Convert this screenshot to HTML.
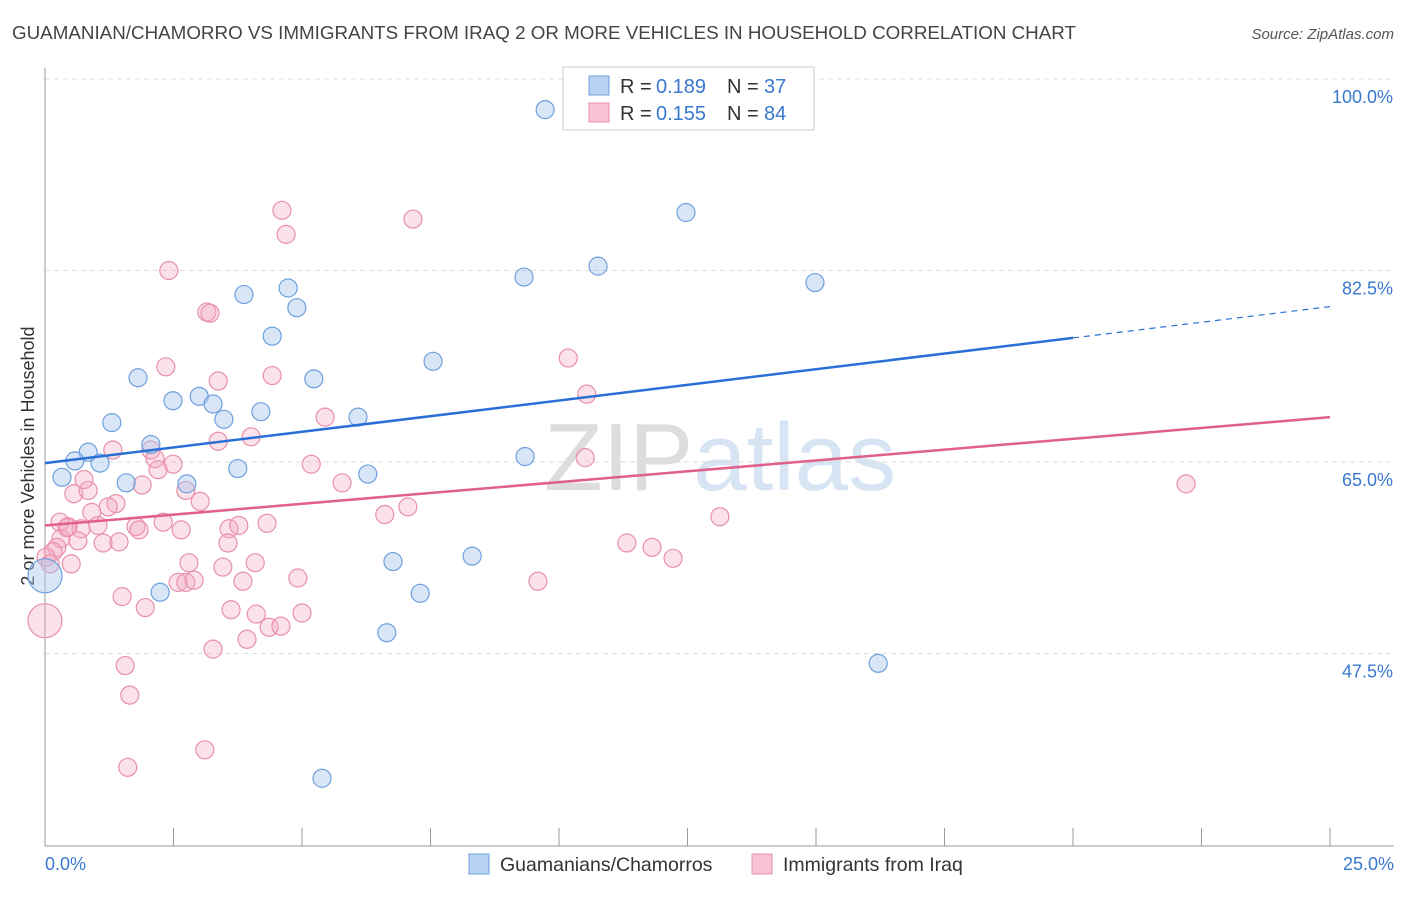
<!DOCTYPE html>
<html><head><meta charset="utf-8"><style>
body{margin:0;background:#fff;font-family:"Liberation Sans",sans-serif}
svg text{font-family:"Liberation Sans",sans-serif}
</style></head><body>
<svg id="chart" width="1406" height="892" viewBox="0 0 1406 892">
<text x="12" y="39" font-size="18.8" fill="#444" textLength="1064">GUAMANIAN/CHAMORRO VS IMMIGRANTS FROM IRAQ 2 OR MORE VEHICLES IN HOUSEHOLD CORRELATION CHART</text>
<text x="1394" y="39" font-size="15" fill="#555" font-style="italic" text-anchor="end">Source: ZipAtlas.com</text>
<text x="720" y="490" font-size="96" fill="#e4e4e4" text-anchor="middle" font-family="Liberation Serif"><tspan fill="#ddd">ZIP</tspan><tspan fill="#d6e4f4" font-family="Liberation Sans">atlas</tspan></text>
<g id="grid"></g>
<line x1="45" y1="68" x2="45" y2="846" stroke="#999"/>
<line x1="45" y1="846" x2="1394" y2="846" stroke="#999"/>
<g id="xticks"></g>
<text transform="translate(34,456) rotate(-90)" font-size="18" fill="#333" text-anchor="middle">2 or more Vehicles in Household</text>
<text x="45" y="870" font-size="18" fill="#3a78d0">0.0%</text>
<text x="1394" y="870" font-size="18" fill="#3a78d0" text-anchor="end">25.0%</text>
<g id="pts"></g>
<g id="lines"></g>
<g>
<rect x="563" y="67" width="251" height="63" fill="#fff" stroke="#ccc"/>
<rect x="589" y="76" width="20" height="19" fill="#b8d2f4" stroke="#6fa0dc"/>
<rect x="589" y="103" width="20" height="19" fill="#f8c4d4" stroke="#e890ab"/>
<text x="620" y="93" font-size="20" fill="#333">R =</text><text x="656" y="93" font-size="20" fill="#3a78d0">0.189</text>
<text x="727" y="93" font-size="20" fill="#333">N =</text><text x="764" y="93" font-size="20" fill="#3a78d0">37</text>
<text x="620" y="120" font-size="20" fill="#333">R =</text><text x="656" y="120" font-size="20" fill="#3a78d0">0.155</text>
<text x="727" y="120" font-size="20" fill="#333">N =</text><text x="764" y="120" font-size="20" fill="#3a78d0">84</text>
</g>
<g>
<rect x="469" y="854" width="20" height="20" fill="#b8d2f4" stroke="#6fa0dc"/>
<text x="500" y="871" font-size="19.5" fill="#333">Guamanians/Chamorros</text>
<rect x="752" y="854" width="20" height="20" fill="#f8c4d4" stroke="#e890ab"/>
<text x="783" y="871" font-size="19.5" fill="#333">Immigrants from Iraq</text>
</g>
</svg>
<script>
const yTicks=[100,82.5,65,47.5];
const blueX=[9.73,12.47,10.76,9.32,14.98,3.87,4.73,4.90,4.42,7.55,1.81,5.23,2.49,3.00,3.27,4.20,6.09,3.48,1.30,2.06,0.84,0.58,1.07,3.75,6.28,0.33,1.58,2.76,9.34,8.31,6.77,2.24,7.30,6.65,16.21,5.39,0.0];
const blueY=[97.2,87.8,82.9,81.9,81.4,80.3,80.9,79.1,76.5,74.2,72.7,72.6,70.6,71.0,70.3,69.6,69.1,68.9,68.6,66.6,65.9,65.1,64.9,64.4,63.9,63.6,63.1,63.0,65.5,56.4,55.9,53.1,53.0,49.4,46.6,36.1,54.6];
const blueBig=[0,0,0,0,0,0,0,0,0,0,0,0,0,0,0,0,0,0,0,0,0,0,0,0,0,0,0,0,0,0,0,0,0,0,0,0,1];
const pinkX=[4.61,4.69,7.16,2.41,3.15,3.21,10.18,2.35,4.42,3.37,10.54,5.45,4.01,3.37,1.32,10.51,2.06,2.14,2.49,5.18,2.20,5.78,2.74,1.89,0.56,0.84,0.76,3.02,1.38,1.23,7.06,0.91,6.61,13.13,22.20,0.29,0.45,1.03,0.70,2.30,1.77,1.83,3.58,3.77,4.32,2.65,0.31,1.13,3.56,1.44,0.64,0.23,0.16,11.32,11.81,12.22,2.80,4.09,3.46,0.51,0.02,4.92,2.59,2.74,2.90,3.85,9.59,1.50,1.95,3.62,4.11,5.00,4.36,4.59,3.93,3.27,1.56,1.65,3.11,1.61,0.0,0.10,0.43];
const pinkY=[88.0,85.8,87.2,82.5,78.7,78.6,74.5,73.7,72.9,72.4,71.2,69.1,67.3,66.9,66.1,65.4,66.1,65.3,64.8,64.8,64.3,63.1,62.4,62.9,62.1,62.4,63.4,61.4,61.2,60.9,60.9,60.4,60.2,60.0,63.0,59.5,59.1,59.2,58.9,59.5,59.1,58.8,58.9,59.2,59.4,58.8,58.0,57.6,57.6,57.7,57.8,57.2,56.8,57.6,57.2,56.2,55.8,55.8,55.4,55.7,56.3,54.4,54.0,54.0,54.2,54.1,54.1,52.7,51.7,51.5,51.1,51.2,49.9,50.0,48.8,47.9,46.4,43.7,38.7,37.1,50.5,55.7,59.0];
const pinkBig=[];pinkBig[80]=1;
const blueTrend=[64.9,79.2], pinkTrend=[59.2,69.1];
const xMin=0,xMax=25;
const X=v=>45+(v-xMin)/(xMax-xMin)*1285;
const Y=v=>79+(100-v)*10.943;
const NS='http://www.w3.org/2000/svg';
function mk(t,a,p){const e=document.createElementNS(NS,t);for(const k in a)e.setAttribute(k,a[k]);p.appendChild(e);return e;}
const grid=document.getElementById('grid');
yTicks.forEach((t,i)=>{
  const l=mk('line',{x1:45,x2:1394,y1:Y(t),y2:Y(t),stroke:'#ddd','stroke-dasharray':'5,4'},grid);
  
  
  const tx=mk('text',{x:1393,y:Y(t)+24,'font-size':18,fill:'#3a78d0','text-anchor':'end'},grid);
  tx.textContent=t.toFixed(1)+'%';
  
  
});
const xt=document.getElementById('xticks');
for(let i=0;i<=10;i++){
  const l=mk('line',{x1:X(i*2.5),x2:X(i*2.5),y1:828,y2:846,stroke:'#999'},xt);
  
  
}
const pts=document.getElementById('pts');
pinkX.forEach((x,i)=>{
  const c=mk('circle',{cx:X(x),cy:Y(pinkY[i]),r:pinkBig[i]?17:9,fill:'#f4a8c0','fill-opacity':0.35,stroke:'#e890ab','stroke-width':1.2},pts);
  
  
});
blueX.forEach((x,i)=>{
  const c=mk('circle',{cx:X(x),cy:Y(blueY[i]),r:blueBig[i]?17:9,fill:'#a8c8f0','fill-opacity':0.45,stroke:'#6fa0dc','stroke-width':1.2},pts);
  
  
});
const lg=document.getElementById('lines');
const bAt=v=>blueTrend[0]+(blueTrend[1]-blueTrend[0])*v/25;
let l1=mk('line',{x1:X(0),y1:Y(bAt(0)),x2:X(20),y2:Y(bAt(20)),stroke:'#2a6fd6','stroke-width':2.5},lg);


let l2=mk('line',{x1:X(20),y1:Y(bAt(20)),x2:X(25),y2:Y(bAt(25)),stroke:'#2a6fd6','stroke-width':1.2,'stroke-dasharray':'6,5'},lg);


let l3=mk('line',{x1:X(0),y1:Y(pinkTrend[0]),x2:X(25),y2:Y(pinkTrend[1]),stroke:'#e0608a','stroke-width':2.5},lg);


</script>
</body></html>
